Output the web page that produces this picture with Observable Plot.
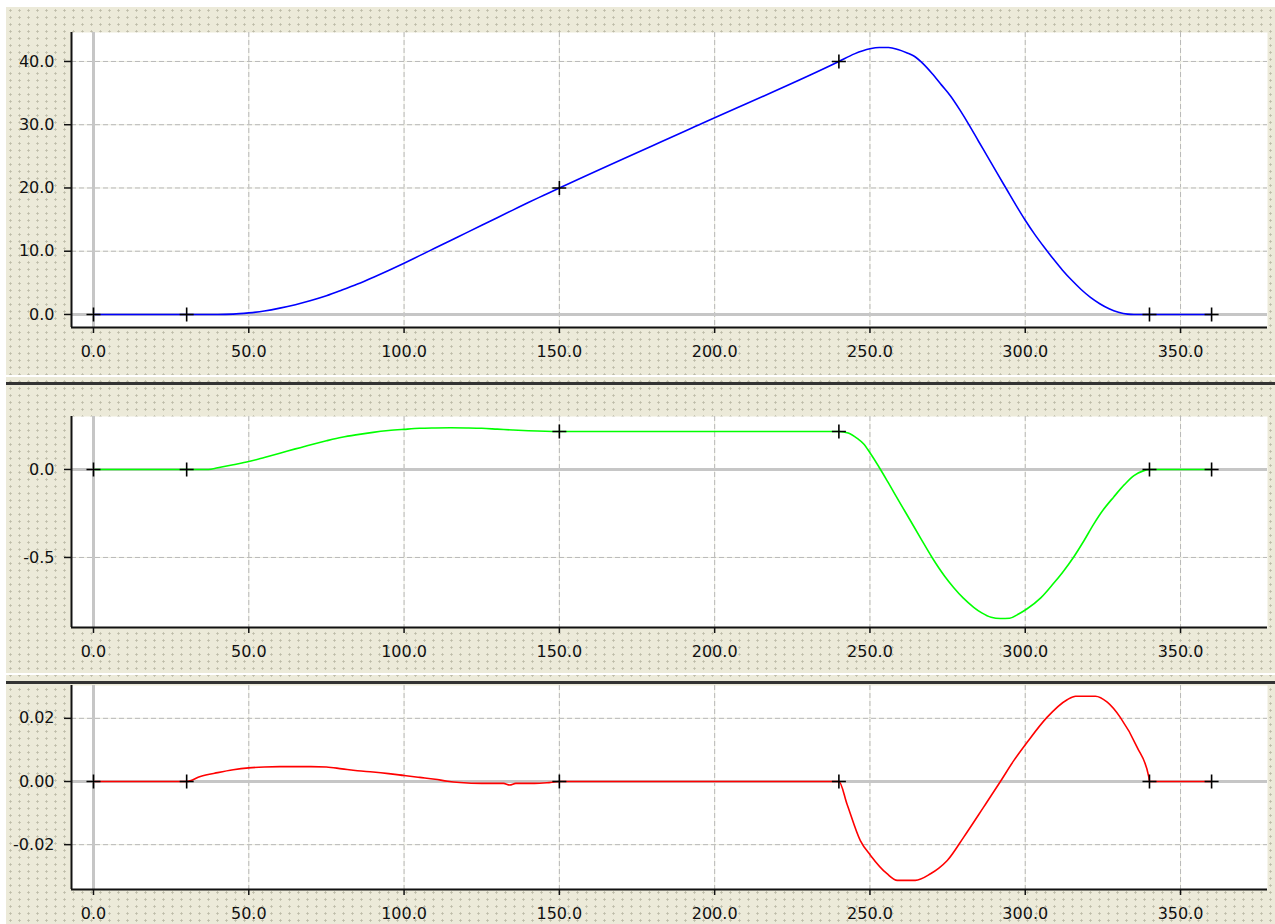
<!DOCTYPE html>
<html>
<head>
<meta charset="utf-8">
<script src="https://cdn.jsdelivr.net/npm/d3@7"></script>
<script src="https://cdn.jsdelivr.net/npm/@observablehq/plot@0.6"></script>
<style>
html, body { margin: 0; padding: 0; background: #ffffff; }
#page { position: relative; width: 1275px; height: 924px; overflow: hidden; background: #ffffff; }
.bg { position: absolute; left: 6px; top: 7px; width: 1269px; height: 917px;
      background-color: #ecead9;
      background-image: radial-gradient(circle, #bdbba8 0.9px, transparent 1.3px);
      background-size: 9px 7px; }
.sepW { position: absolute; left: 6px; width: 1269px; height: 2px; background: #ffffff; }
.sepD { position: absolute; left: 6px; width: 1269px; height: 3px; background: #333333; }
.panel { position: absolute; left: 6px; }
</style>
</head>
<body>
<div id="page">
  <div class="bg"></div>
  <div class="sepW" style="top:375px"></div>
  <div class="sepD" style="top:382px"></div>
  <div class="sepW" style="top:673px"></div>
  <div class="sepD" style="top:681px"></div>
  <div class="panel" id="p1" style="top:7px"></div>
  <div class="panel" id="p2" style="top:385px"></div>
  <div class="panel" id="p3" style="top:685px"></div>
</div>
<script>
// ---- data ----
const xTicks = [0, 50, 100, 150, 200, 250, 300, 350];
const y1Ticks = [0, 10, 20, 30, 40];
const y2Ticks = [-0.5, 0];
const y3Ticks = [-0.02, 0, 0.02];

const markerX = [0, 30, 150, 240, 340, 360];
const markerBlue = [0, 0, 20, 40, 0, 0];
const markerGreen = [0, 0, 0.216, 0.216, 0, 0];
const markerRed = [0, 0, 0, 0, 0, 0];

// displacement (blue)
const blueX = [0, 30, 40, 45, 50, 55, 60, 65, 70, 75, 80, 85, 90, 95, 100, 105, 110, 115, 120, 125, 130, 135, 140, 145, 150, 195, 240,
  245, 250, 253, 256, 259, 262, 264, 267, 270, 273, 276, 279, 282, 285, 288, 291, 294, 297, 300, 303, 306, 309, 312, 315, 318, 321, 324, 327, 330, 333, 335, 340, 360];
const blueY = [0, 0, 0, 0.05, 0.25, 0.55, 1.0, 1.55, 2.2, 2.95, 3.85, 4.8, 5.85, 6.95, 8.1, 9.3, 10.5, 11.7, 12.9, 14.1, 15.3, 16.5, 17.7, 18.85, 20, 30, 40,
  41.2, 42.0, 42.2, 42.2, 41.9, 41.35, 40.9, 39.7, 38.1, 36.3, 34.5, 32.3, 29.9, 27.35, 24.85, 22.3, 19.8, 17.3, 14.9, 12.7, 10.7, 8.8, 7.0, 5.4, 3.95, 2.7, 1.7, 0.9, 0.35, 0.05, 0, 0, 0];

// velocity (green)
const greenX = [0, 30, 37, 40, 45, 50, 55, 60, 65, 70, 75, 80, 85, 90, 95, 100, 105, 110, 115, 120, 125, 130, 135, 140, 150, 240,
  243, 246, 248, 250, 253.4, 256, 259.8, 263, 266.3, 270, 274, 277, 280, 283.4, 286, 289, 292, 295, 298, 300.5, 305, 309, 312, 315.5, 319, 322, 325, 328.5, 332, 335, 338, 340, 360];
const greenY = [0, 0, 0, 0.01, 0.027, 0.045, 0.068, 0.092, 0.117, 0.141, 0.163, 0.183, 0.198, 0.211, 0.221, 0.228, 0.234, 0.236, 0.237, 0.236, 0.234, 0.229, 0.224, 0.22, 0.216, 0.216,
  0.207, 0.175, 0.145, 0.095, 0, -0.078, -0.194, -0.29, -0.39, -0.5, -0.605, -0.672, -0.73, -0.783, -0.815, -0.84, -0.847, -0.845, -0.82, -0.793, -0.73, -0.65, -0.585, -0.5, -0.402, -0.312, -0.232, -0.156, -0.085, -0.035, -0.008, 0, 0];

// acceleration (red)
const redX = [0, 30, 34.4, 40, 45, 50, 55, 60, 65, 70, 75, 80, 85, 90, 95, 100, 105, 110, 114, 118, 125, 132, 134, 136, 142, 146, 150, 240,
  242.6, 246.9, 250.2, 255.5, 258.8, 264.6, 269.5, 272.2, 274.9, 280.2, 286.6, 292, 296.3, 300.6, 307, 313.5, 316.2, 322.6, 326.4, 330.6, 336, 339.8, 340, 360];
const redY = [0, 0, 0.0016, 0.0028, 0.0037, 0.0043, 0.0046, 0.0047, 0.0047, 0.0047, 0.0046, 0.004, 0.0034, 0.003, 0.0025, 0.0019, 0.0013, 0.0007, 0.0001, -0.0003, -0.0006, -0.0006, -0.0011, -0.0006, -0.0006, -0.0004, 0, 0,
  -0.0071, -0.0187, -0.0234, -0.0292, -0.0313, -0.0313, -0.0292, -0.0274, -0.025, -0.0176, -0.0081, 0, 0.0066, 0.0124, 0.0203, 0.0259, 0.027, 0.027, 0.0251, 0.0203, 0.0109, 0.0014, 0, 0];

// ---- drawing ----
const xDomain = [-7.08, 378];
const plusSymbol = {
  draw(ctx, size) {
    const r = Math.sqrt(size / Math.PI);
    ctx.moveTo(-r, 0); ctx.lineTo(r, 0);
    ctx.moveTo(0, -r); ctx.lineTo(0, r);
  }
};

function panel({height, marginTop, marginBottom, yDomain, yTicks, yFormat, lx, ly, color, mx, my}) {
  const gridY = yTicks.filter(d => d !== 0);
  const gridX = xTicks.filter(d => d !== 0);
  return Plot.plot({
    width: 1269,
    height,
    marginLeft: 65,
    marginRight: 8,
    marginTop,
    marginBottom,
    x: {domain: xDomain},
    y: {domain: yDomain},
    style: {background: "transparent", fontFamily: "DejaVu Sans, Verdana, sans-serif", fontSize: "16px", color: "#111", overflow: "visible"},
    marks: [
      Plot.frame({fill: "#ffffff", stroke: "none"}),
      Plot.ruleX(gridX, {stroke: "#eeeee2", strokeWidth: 1}),
      Plot.ruleX(gridX, {stroke: "#b8b8b8", strokeWidth: 1, strokeDasharray: "5,3"}),
      Plot.ruleY(gridY, {stroke: "#eeeee2", strokeWidth: 1}),
      Plot.ruleY(gridY, {stroke: "#b8b8b8", strokeWidth: 1, strokeDasharray: "5,3"}),
      Plot.ruleY([0], {stroke: "#c6c6c6", strokeWidth: 3}),
      Plot.ruleX([0], {stroke: "#c6c6c6", strokeWidth: 3}),
      Plot.line(ly, {x: lx, y: ly, stroke: color, strokeWidth: 1.6, curve: "monotone-x"}),
      Plot.dot(my, {x: mx, y: my, symbol: plusSymbol, r: 7, stroke: "#000", strokeWidth: 1.6, fill: "none"}),
      Plot.ruleX([xDomain[0]], {stroke: "#111", strokeWidth: 2}),
      Plot.ruleY([yDomain[0]], {stroke: "#111", strokeWidth: 2}),
      Plot.axisX(xTicks, {tickFormat: d => d.toFixed(1), tickSize: 6, tickPadding: 12, fontSize: 16, stroke: "#111", strokeWidth: 1.5}),
      Plot.axisY(yTicks, {tickFormat: yFormat, tickSize: 7, tickPadding: 10, fontSize: 16, stroke: "#111", strokeWidth: 1.5})
    ]
  });
}

document.getElementById("p1").append(panel({
  height: 368, marginTop: 25, marginBottom: 48,
  yDomain: [-2.06, 44.58], yTicks: y1Ticks, yFormat: d => d.toFixed(1),
  lx: blueX, ly: blueY, color: "#0000ff", mx: markerX, my: markerBlue
}));
document.getElementById("p2").append(panel({
  height: 288, marginTop: 31, marginBottom: 46,
  yDomain: [-0.898, 0.301], yTicks: y2Ticks, yFormat: d => d.toFixed(1),
  lx: greenX, ly: greenY, color: "#00ff00", mx: markerX, my: markerGreen
}));
document.getElementById("p3").append(panel({
  height: 239, marginTop: 0, marginBottom: 35,
  yDomain: [-0.0342, 0.0304], yTicks: y3Ticks, yFormat: d => d.toFixed(2),
  lx: redX, ly: redY, color: "#ff0000", mx: markerX, my: markerRed
}));
</script>
</body>
</html>
